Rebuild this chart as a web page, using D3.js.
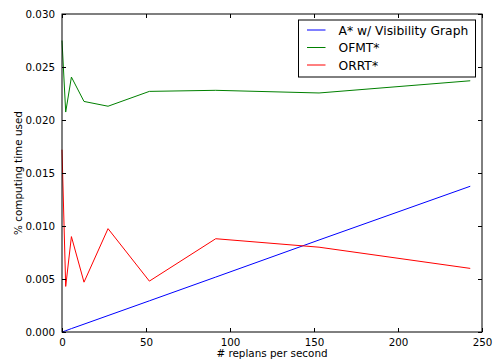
<!DOCTYPE html>
<html>
<head>
<meta charset="utf-8">
<script src="https://cdn.jsdelivr.net/npm/d3@7"></script>
<style>
  body { margin: 0; background: #fff; }
  text { font-family: "DejaVu Sans", sans-serif; }
</style>
</head>
<body>
<svg id="chart" width="498" height="362"></svg>
<script>
// replans per second
var replans = [0, 2.2, 5.6, 13.1, 27.4, 52, 91.5, 153, 243];
var astar = [0, 0.00012, 0.00032, 0.00074, 0.00155, 0.00294, 0.00518, 0.00868, 0.01375];
var ofmt = [0.0275, 0.02075, 0.02405, 0.02175, 0.0213, 0.0227, 0.0228, 0.02255, 0.0237];
var orrt = [0.0172, 0.0043, 0.0090, 0.0047, 0.00975, 0.0048, 0.0088, 0.0080, 0.0060];
var names = ["A* w/ Visibility Graph", "OFMT*", "ORRT*"];
var colors = ["#0000ff", "#008000", "#ff0000"];
var xTicks = [0, 50, 100, 150, 200, 250];
var yTicks = [0, 0.005, 0.01, 0.015, 0.02, 0.025, 0.03];

var svg = d3.select("#chart"),
    margin = {top: 14, right: 16, bottom: 30, left: 62},
    width = 498 - margin.left - margin.right,
    height = 362 - margin.top - margin.bottom,
    g = svg.append("g").attr("transform", "translate(" + margin.left + "," + margin.top + ")");

var x = d3.scaleLinear().domain([0, 250]).range([0, width]);
var y = d3.scaleLinear().domain([0, 0.03]).range([height, 0]);

var line = d3.line()
    .x(function(d) { return x(d[0]); })
    .y(function(d) { return y(d[1]); });

var series = [astar, ofmt, orrt];
series.forEach(function(s, k) {
  g.append("path")
      .datum(replans.map(function(r, i) { return [r, s[i]]; }))
      .attr("fill", "none")
      .attr("stroke", colors[k])
      .attr("stroke-width", 1)
      .attr("d", line);
});

// frame
g.append("rect")
    .attr("width", width).attr("height", height)
    .attr("fill", "none").attr("stroke", "#000").attr("stroke-width", 1);

function styleAxis(sel) {
  sel.select(".domain").remove();
  sel.selectAll("line").attr("stroke", "#000");
  sel.selectAll("text").attr("font-size", "10.3px").attr("fill", "#000");
}

g.append("g").attr("transform", "translate(0," + height + ")")
    .call(d3.axisBottom(x).tickValues(xTicks).tickFormat(d3.format("d")).tickSizeInner(-4).tickPadding(7))
    .call(styleAxis);
g.append("g")
    .call(d3.axisTop(x).tickValues(xTicks).tickSizeInner(-4).tickFormat(""))
    .call(styleAxis);
g.append("g")
    .call(d3.axisLeft(y).tickValues(yTicks).tickFormat(d3.format(".3f")).tickSizeInner(-4).tickPadding(7))
    .call(styleAxis);
g.append("g").attr("transform", "translate(" + width + ",0)")
    .call(d3.axisRight(y).tickValues(yTicks).tickSizeInner(-4).tickFormat(""))
    .call(styleAxis);

// axis labels
svg.append("text")
    .attr("x", margin.left + width / 2).attr("y", 357)
    .attr("text-anchor", "middle").attr("font-size", "10.4px")
    .text("# replans per second");
svg.append("text")
    .attr("transform", "translate(22," + (margin.top + height / 2) + ") rotate(-90)")
    .attr("text-anchor", "middle").attr("font-size", "10.4px")
    .text("% computing time used");

// legend
var leg = g.append("g").attr("transform", "translate(236.5,6)");
leg.append("rect")
    .attr("width", 177).attr("height", 57)
    .attr("fill", "#fff").attr("stroke", "#000").attr("stroke-width", 1);
names.forEach(function(n, k) {
  var yy = 10 + k * 17.5;
  leg.append("line")
      .attr("x1", 8.5).attr("x2", 27).attr("y1", yy).attr("y2", yy)
      .attr("stroke", colors[k]);
  leg.append("text")
      .attr("x", 40).attr("y", yy + 4.5)
      .attr("font-size", "12.3px")
      .text(n);
});
</script>
</body>
</html>
